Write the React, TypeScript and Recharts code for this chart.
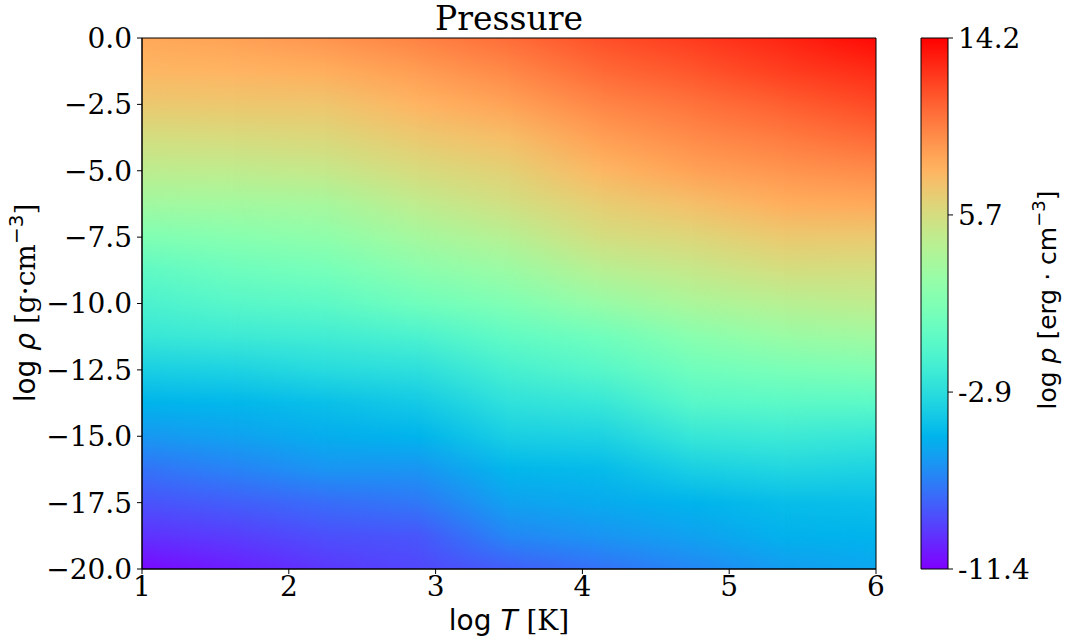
import React from 'react';
import { ComposedChart, XAxis, YAxis, ReferenceArea } from 'recharts';

// ---- data ----
const logT = [1, 1.625, 2.25, 2.875, 3.5, 4.125, 4.75, 5.375, 6];
const logRho = [0, -1.25, -2.5, -3.75, -5, -6.25, -7.5, -8.75, -10, -11.25, -12.5, -13.75, -15, -16.25, -17.5, -18.75, -20];
// log pressure, one row per logRho value, one column per logT value
const logP = [
  [8.3, 8.6, 9.1, 9.8, 10.6, 11.6, 12.3, 13.0, 13.9],
  [7.7, 7.8, 8.1, 8.8, 9.6, 10.7, 11.4, 12.2, 12.8],
  [6.8, 6.9, 7.0, 7.8, 8.6, 9.7, 10.4, 11.1, 11.8],
  [5.6, 5.8, 6.0, 6.8, 7.4, 8.7, 9.5, 10.1, 10.7],
  [4.5, 4.6, 4.9, 5.8, 6.4, 7.7, 8.6, 9.1, 9.5],
  [3.1, 3.2, 3.4, 4.6, 5.5, 6.6, 7.3, 8.1, 8.3],
  [1.4, 1.8, 2.2, 3.3, 4.2, 5.6, 6.1, 6.8, 6.8],
  [-0.2, 0.5, 0.9, 2.0, 2.8, 4.2, 4.9, 5.6, 5.6],
  [-1.2, -0.6, -0.3, 0.6, 1.4, 2.6, 3.6, 4.2, 4.6],
  [-2.2, -1.9, -1.7, -1.2, -0.1, 0.6, 1.9, 2.7, 3.1],
  [-3.7, -3.5, -3.0, -2.7, -1.4, -0.6, 0.6, 1.1, 1.4],
  [-5.0, -4.9, -4.5, -4.0, -2.6, -2.2, -0.6, -0.4, -0.4],
  [-6.2, -5.8, -5.3, -5.0, -3.7, -3.5, -2.2, -1.9, -2.2],
  [-7.6, -7.0, -6.3, -6.3, -4.9, -4.7, -3.7, -3.3, -3.5],
  [-8.7, -8.3, -7.8, -7.4, -5.8, -5.4, -5.0, -4.6, -4.5],
  [-9.8, -9.4, -8.8, -8.6, -6.8, -6.3, -5.8, -5.1, -5.0],
  [-11.1, -10.4, -9.6, -9.1, -8.3, -7.6, -6.8, -6.0, -5.6],
];
const xTicks = [1, 2, 3, 4, 5, 6];
const yTicks = [0, -2.5, -5, -7.5, -10, -12.5, -15, -17.5, -20];
const cbarMin = -11.4;
const cbarMax = 14.2;
const cbarTicks = [-11.4, -2.87, 5.67, 14.2];
const cbarTickLabels = ['-11.4', '-2.9', '5.7', '14.2'];
const title = 'Pressure';

// ---- matplotlib "rainbow" colormap ----
function rainbow(f: number): string {
  const t = Math.max(0, Math.min(1, f));
  const r = Math.min(1, Math.abs(2 * t - 0.5));
  const g = Math.sin(Math.PI * t);
  const b = Math.cos((Math.PI * t) / 2);
  return `rgb(${Math.round(r * 255)},${Math.round(g * 255)},${Math.round(b * 255)})`;
}
const norm = (v: number) => (v - cbarMin) / (cbarMax - cbarMin);

const SERIF = 'DejaVu Serif';
const SANS = 'DejaVu Sans';
const rhoTop = logRho[0];
const rhoBottom = logRho[logRho.length - 1];

function Defs() {
  return (
    <svg width={0} height={0} style={{ position: 'absolute' }}>
      <defs>
        {logT.map((_, c) => (
          <linearGradient key={c} id={`col${c}`} x1="0" y1="0" x2="0" y2="1">
            {logRho.map((rho, r) => (
              <stop
                key={r}
                offset={(rhoTop - rho) / (rhoTop - rhoBottom)}
                stopColor={rainbow(norm(logP[r][c]))}
              />
            ))}
          </linearGradient>
        ))}
        <linearGradient id="hramp" x1="0" y1="0" x2="1" y2="0">
          <stop offset="0" stopColor="#fff" stopOpacity={0} />
          <stop offset="1" stopColor="#fff" stopOpacity={1} />
        </linearGradient>
        <mask id="fadeIn" maskContentUnits="objectBoundingBox" x="-0.1" y="-0.1" width="1.2" height="1.2">
          <rect x="0" y="0" width="1" height="1" fill="url(#hramp)" />
        </mask>
        <linearGradient id="cbar" x1="0" y1="0" x2="0" y2="1">
          {Array.from({ length: 41 }, (_, i) => (
            <stop key={i} offset={i / 40} stopColor={rainbow(1 - i / 40)} />
          ))}
        </linearGradient>
      </defs>
    </svg>
  );
}

const tickStyle = { fill: '#000', fontSize: 28, fontFamily: SERIF };
const fmtY = (v: number) => (v < 0 ? '\u2212' : '') + Math.abs(v).toFixed(1);

function MainChart() {
  return (
    <ComposedChart width={1065} height={642} margin={{ top: 38, right: 189, bottom: 0, left: 0 }}>
      <XAxis
        type="number"
        dataKey="x"
        domain={[logT[0], logT[logT.length - 1]]}
        allowDataOverflow
        ticks={xTicks}
        interval={0}
        height={73}
        tickSize={5}
        tickMargin={2}
        tick={tickStyle}
        tickLine={{ stroke: '#000' }}
        axisLine={{ stroke: '#000' }}
      />
      <YAxis
        type="number"
        dataKey="y"
        domain={[rhoBottom, rhoTop]}
        allowDataOverflow
        ticks={yTicks}
        interval={0}
        width={142}
        tickSize={5}
        tickMargin={5}
        tick={tickStyle}
        tickFormatter={fmtY}
        tickLine={{ stroke: '#000' }}
        axisLine={{ stroke: '#000' }}
      />
      {logT.slice(0, -1).map((t, k) => (
        <ReferenceArea
          key={k}
          x1={t}
          x2={logT[k + 1]}
          y1={rhoBottom}
          y2={rhoTop}
          ifOverflow="visible"
          shape={(p: any) => (
            <g>
              <rect x={p.x} y={p.y} width={p.width + (k < logT.length - 2 ? 0.8 : 0)} height={p.height} fill={`url(#col${k})`} />
              <rect
                x={p.x}
                y={p.y}
                width={p.width + (k < logT.length - 2 ? 0.8 : 0)}
                height={p.height}
                fill={`url(#col${k + 1})`}
                mask="url(#fadeIn)"
              />
            </g>
          )}
        />
      ))}
      <ReferenceArea
        x1={logT[0]}
        x2={logT[logT.length - 1]}
        y1={rhoBottom}
        y2={rhoTop}
        ifOverflow="visible"
        fill="none"
        fillOpacity={0}
        stroke="#000"
        strokeWidth={1}
      />
    </ComposedChart>
  );
}

function ColorbarChart() {
  return (
    <ComposedChart width={1065} height={642} margin={{ top: 38, right: 0, bottom: 73, left: 921 }}>
      <XAxis type="number" dataKey="x" domain={[0, 1]} allowDataOverflow hide />
      <YAxis
        type="number"
        dataKey="v"
        orientation="right"
        domain={[cbarMin, cbarMax]}
        allowDataOverflow
        ticks={cbarTicks}
        interval={0}
        width={117}
        tickSize={5}
        tickMargin={5}
        tick={tickStyle}
        tickFormatter={(v: number) => cbarTickLabels[cbarTicks.indexOf(v)] ?? String(v)}
        tickLine={{ stroke: '#000' }}
        axisLine={false}
      />
      <ReferenceArea
        x1={0}
        x2={1}
        y1={cbarMin}
        y2={cbarMax}
        ifOverflow="visible"
        fill="url(#cbar)"
        fillOpacity={1}
        stroke="#000"
        strokeWidth={1}
      />
    </ComposedChart>
  );
}

function Texts() {
  return (
    <svg width={1065} height={642} style={{ position: 'absolute', left: 0, top: 0, pointerEvents: 'none' }}>
      <text x={509} y={30} textAnchor="middle" fontFamily={SERIF} fontSize={33} fill="#000">
        {title}
      </text>
      <text x={509} y={630} textAnchor="middle" fontSize={28} fill="#000">
        <tspan fontFamily={SANS}>log </tspan>
        <tspan fontFamily={SANS} fontStyle="italic">T</tspan>
        <tspan fontFamily={SERIF}> [K]</tspan>
      </text>
      <text x={35} y={303} textAnchor="middle" fontSize={28} fill="#000" transform="rotate(-90 35 303)">
        <tspan fontFamily={SANS}>log </tspan>
        <tspan fontFamily={SANS} fontStyle="italic">ρ</tspan>
        <tspan fontFamily={SERIF}> [g·cm</tspan>
        <tspan fontFamily={SANS} fontSize={20} dy={-12}>−3</tspan>
        <tspan fontFamily={SERIF} dy={12}>]</tspan>
      </text>
      <text x={1056} y={300} textAnchor="middle" fontSize={25} fill="#000" transform="rotate(-90 1056 300)">
        <tspan fontFamily={SANS}>log </tspan>
        <tspan fontFamily={SANS} fontStyle="italic">p</tspan>
        <tspan fontFamily={SANS}> [erg · cm</tspan>
        <tspan fontFamily={SANS} fontSize={18} dy={-11}>−3</tspan>
        <tspan fontFamily={SANS} dy={11}>]</tspan>
      </text>
    </svg>
  );
}

export default function App() {
  return (
    <div style={{ position: 'absolute', left: 0, top: 0, width: 1065, height: 642, background: '#fff' }}>
      <Defs />
      <div style={{ position: 'absolute', left: 0, top: 0 }}>
        <MainChart />
      </div>
      <div style={{ position: 'absolute', left: 0, top: 0 }}>
        <ColorbarChart />
      </div>
      <Texts />
    </div>
  );
}
